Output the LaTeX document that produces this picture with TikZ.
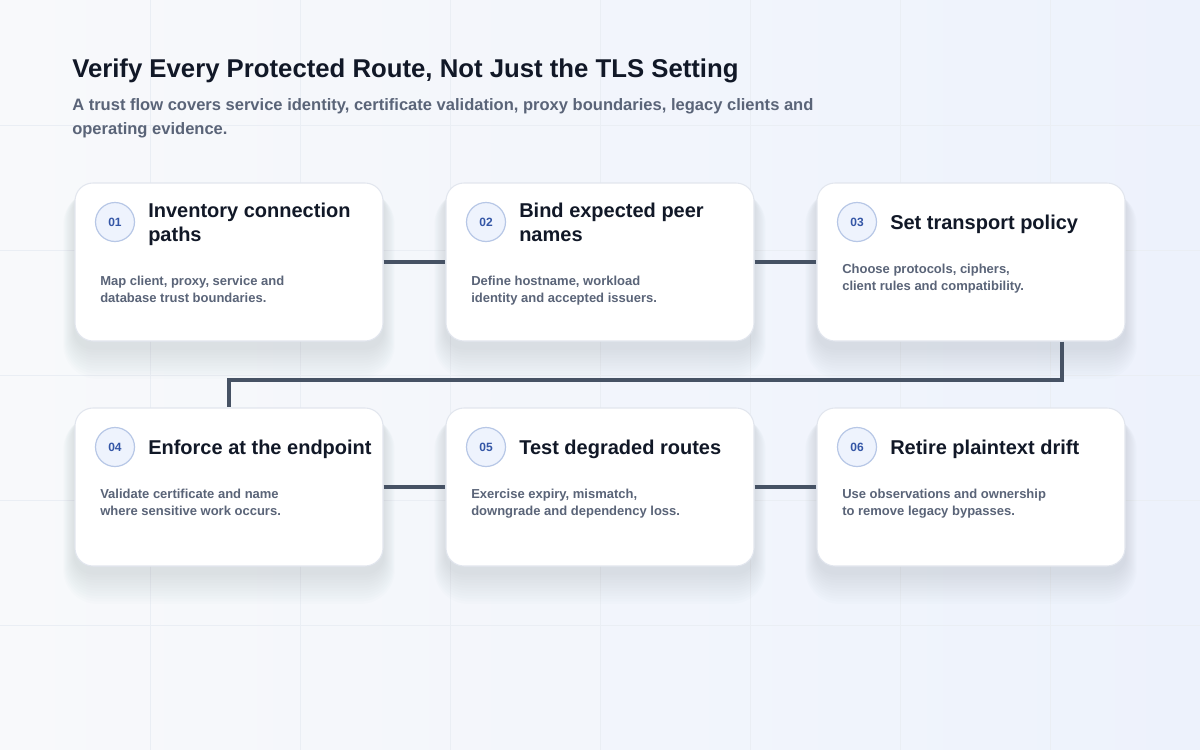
\documentclass[tikz,border=0pt]{standalone}
\usepackage{fontspec}
\setmainfont{Liberation Sans}
\usetikzlibrary{backgrounds}

\definecolor{bgtop}{HTML}{F8F9FB}
\definecolor{bgbot}{HTML}{EDF2FC}
\definecolor{gridc}{HTML}{EAEEF4}
\definecolor{ink}{HTML}{111827}
\definecolor{muted}{HTML}{5A6478}
\definecolor{linkc}{HTML}{465264}
\definecolor{badgefill}{HTML}{EEF3FD}
\definecolor{badgeline}{HTML}{B7C7E6}
\definecolor{badgetext}{HTML}{3456A6}
\definecolor{cardline}{HTML}{E2E6EE}
\definecolor{shadowc}{HTML}{6E7A9C}

\tikzset{
  card/.style={draw=cardline, line width=0.8pt, fill=white, rounded corners=13.5pt,
    minimum width=231pt, minimum height=118.5pt, inner sep=0pt},
  cardshadow/.style={fill=shadowc, opacity=0.016},
  badge/.style={circle, draw=badgeline, line width=0.9pt, fill=badgefill, minimum size=29.25pt,
    inner sep=0pt, font=\bfseries\fontsize{9}{9}\selectfont, text=badgetext},
  steptitle/.style={anchor=base west, align=left, inner sep=0pt, text=ink,
    font=\bfseries\fontsize{15}{18}\selectfont},
  stepbody/.style={anchor=base west, align=left, inner sep=0pt, text=muted,
    font=\bfseries\fontsize{9.75}{12.75}\selectfont},
  link/.style={draw=linkc, line width=3pt}
}

\begin{document}
\begin{tikzpicture}[x=0.75pt, y=-0.75pt]
		\useasboundingbox (0,0) rectangle (1200,750);

		% Heading
		\node[anchor=base west, inner sep=0pt, text=ink, font=\bfseries\fontsize{19.3}{22}\selectfont] (head) at (72,77)
			{Verify Every Protected Route, Not Just the TLS Setting};
		\node[anchor=base west, align=left, inner sep=0pt, text=muted, font=\bfseries\fontsize{12.4}{18}\selectfont] (sub) at (72,134)
			{A trust flow covers service identity, certificate validation, proxy boundaries, legacy clients and\\operating evidence.};

		% Draw the cards
		\node[card] (c1) at (229,262) {};
		\node[card] (c2) at (600,262) {};
		\node[card] (c3) at (971,262) {};
		\node[card] (c4) at (229,487) {};
		\node[card] (c5) at (600,487) {};
		\node[card] (c6) at (971,487) {};

		% Draw the background, grid and soft shadows behind the cards
		\begin{scope}[on background layer]
			\shade[left color=bgtop, right color=bgbot] (0,0) rectangle (1200,750);
			\draw[gridc, line width=0.75pt] (150,0) -- (150,750) (300,0) -- (300,750) (450,0) -- (450,750)
				(600,0) -- (600,750) (750,0) -- (750,750) (900,0) -- (900,750) (1050,0) -- (1050,750);
			\draw[gridc, line width=0.75pt] (0,125) -- (1200,125) (0,250) -- (1200,250) (0,375) -- (1200,375)
				(0,500) -- (1200,500) (0,625) -- (1200,625);
			\foreach \c in {c1,c2,c3,c4,c5,c6}
				\foreach \k in {1,...,12}
					\fill[cardshadow, rounded corners=13.5pt+\k pt]
						([xshift=-\k*0.7pt, yshift=-4pt-\k*2pt]\c.south west) rectangle ([xshift=\k*0.7pt, yshift=-6pt]\c.north east);
		\end{scope}

		% Draw the links between the cards
		\draw[link] (c1.east) -- (c2.west);
		\draw[link] (c2.east) -- (c3.west);
		\draw[link] ([xshift=68.25pt]c3.south) -- ++(0,38) -| (c4.north);
		\draw[link] (c4.east) -- (c5.west);
		\draw[link] (c5.east) -- (c6.west);

		% First row
		\node[badge] (b1) at (115,222) {01};
		\node[steptitle] (t1) at (148,241) {Inventory connection\\paths};
		\node[stepbody] (d1) at (100,302) {Map client, proxy, service and\\database trust boundaries.};

		\node[badge] (b2) at (486,222) {02};
		\node[steptitle] (t2) at (519,241) {Bind expected peer\\names};
		\node[stepbody] (d2) at (471,302) {Define hostname, workload\\identity and accepted issuers.};

		\node[badge] (b3) at (857,222) {03};
		\node[steptitle] (t3) at (890,229) {Set transport policy};
		\node[stepbody] (d3) at (842,290) {Choose protocols, ciphers,\\client rules and compatibility.};

		% Second row
		\node[badge] (b4) at (115,447) {04};
		\node[steptitle] (t4) at (148,454) {Enforce at the endpoint};
		\node[stepbody] (d4) at (100,515) {Validate certificate and name\\where sensitive work occurs.};

		\node[badge] (b5) at (486,447) {05};
		\node[steptitle] (t5) at (519,454) {Test degraded routes};
		\node[stepbody] (d5) at (471,515) {Exercise expiry, mismatch,\\downgrade and dependency loss.};

		\node[badge] (b6) at (857,447) {06};
		\node[steptitle] (t6) at (890,454) {Retire plaintext drift};
		\node[stepbody] (d6) at (842,515) {Use observations and ownership\\to remove legacy bypasses.};

	\end{tikzpicture}
\end{document}
